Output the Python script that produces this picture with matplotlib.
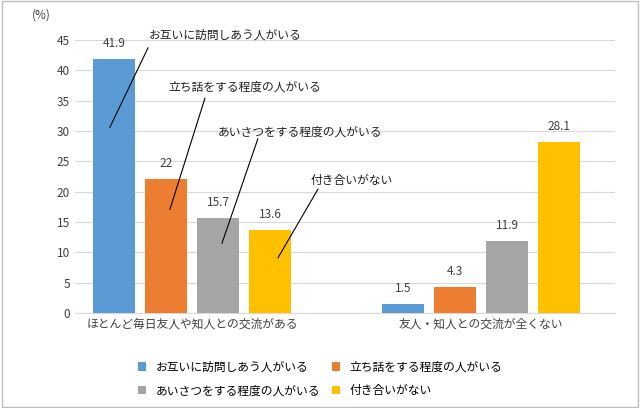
import matplotlib.pyplot as plt
from matplotlib.patches import Rectangle

plt.rcParams['font.family'] = 'Noto Sans CJK JP'

groups = ['ほとんど毎日友人や知人との交流がある', '友人・知人との交流が全くない']
series = ['お互いに訪問しあう人がいる', '立ち話をする程度の人がいる',
          'あいさつをする程度の人がいる', '付き合いがない']
values = [[41.9, 1.5], [22, 4.3], [15.7, 11.9], [13.6, 28.1]]
labels = [['41.9', '1.5'], ['22', '4.3'], ['15.7', '11.9'], ['13.6', '28.1']]
colors = ['#5B9BD5', '#ED7D31', '#A5A5A5', '#FFC000']

fig = plt.figure(figsize=(6.4, 4.08), dpi=100)
ax = fig.add_axes([0.117, 0.233, 0.844, 0.669])

width = 0.145
step = 0.18
handles = []
for i, name in enumerate(series):
    for g in range(len(groups)):
        x = g + (i - 1.5) * step
        b = ax.bar(x, values[i][g], width, color=colors[i], zorder=3)
        ax.text(x, values[i][g] + 1.5, labels[i][g], ha='center', va='bottom', fontsize=8.5, color='#404040')
    handles.append(b)

# callout text positions and leader lines (start -> end) in data units
text_pos = [(-0.15, 45.8), (-0.083, 37.2), (0.09, 29.8), (0.41, 21.9)]
lines = [((-0.152, 43.7), (-0.284, 30.6)), ((0.045, 35.4), (-0.076, 17.1)),
         ((0.228, 28.7), (0.104, 11.5)), ((0.436, 20.4), (0.298, 9.1))]
for name, (tx, ty), (p0, p1) in zip(series, text_pos, lines):
    ax.text(tx, ty, name, fontsize=8.5, color='#202020', ha='left', va='center', clip_on=False)
    ax.plot([p0[0], p1[0]], [p0[1], p1[1]], color='black', lw=0.8, zorder=4, clip_on=False)

ax.set_xlim(-0.405, 1.464)
ax.set_ylim(0, 45)
ax.set_yticks(range(0, 46, 5))
ax.set_xticks(range(len(groups)))
ax.set_xticklabels(groups, fontsize=8.5)
ax.tick_params(length=0, labelsize=8.5, colors='#404040')
ax.grid(axis='y', color='#D9D9D9', lw=0.8, zorder=0)
for s in ['top', 'right', 'left']:
    ax.spines[s].set_visible(False)
ax.spines['bottom'].set_color('#D9D9D9')
fig.text(0.05, 0.955, '(%)', fontsize=8.5, color='#404040')

order = [0, 2, 1, 3]
fig.legend([handles[k] for k in order], [series[k] for k in order],
           loc='lower center', bbox_to_anchor=(0.5, 0.0), ncol=2, frameon=False,
           fontsize=8.5, handlelength=0.7, handleheight=0.7, columnspacing=1.0,
           labelspacing=0.9)
fig.patches.append(Rectangle((0.003, 0.003), 0.994, 0.994, transform=fig.transFigure,
                             fill=False, edgecolor='#BFBFBF', lw=1))
fig.savefig('out.png')
